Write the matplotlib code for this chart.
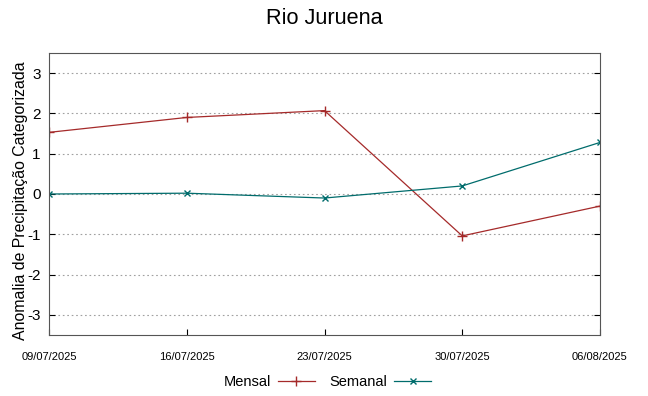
import matplotlib
matplotlib.use("Agg")
import matplotlib.pyplot as plt
import numpy as np
import pandas as pd

plt.rcParams['font.family'] = ['Liberation Sans', 'DejaVu Sans']
plt.rcParams['axes.unicode_minus'] = False

# dados
datas = pd.to_datetime(["2025-07-09", "2025-07-16", "2025-07-23", "2025-07-30", "2025-08-06"])
mensal = [1.53, 1.90, 2.07, -1.04, -0.30]
semanal = [0.0, 0.02, -0.10, 0.20, 1.28]
rotulos = ["09/07/2025", "16/07/2025", "23/07/2025", "30/07/2025", "06/08/2025"]

fig = plt.figure(figsize=(6.48, 3.96), dpi=100)
ax = fig.add_axes([49/648, 1 - 335/396, (600-49)/648, (335-53)/396])

ax.plot(datas, mensal, color="#a52a2a", lw=0.9, marker="+", ms=7, mew=1.0, label="Mensal")
ax.plot(datas, semanal, color="#006c6c", lw=0.9, marker="x", ms=5, mew=1.0, label="Semanal")

ax.set_xlim(datas[0], datas[-1])
ax.set_ylim(-3.5, 3.5)
ax.set_xticks(datas)
ax.set_xticklabels(rotulos, fontsize=8)
ax.set_yticks([-3, -2, -1, 0, 1, 2, 3])
ax.tick_params(axis="y", labelsize=11, direction="in", right=True, length=4, pad=6)
ax.tick_params(axis="x", direction="in", top=False, length=4, pad=12)
ax.grid(True, axis="y", linestyle=(0, (1.5, 2.5)), color="#a0a0a0", lw=0.8)
for s in ax.spines.values():
    s.set_color("#555555")
ax.set_ylabel("Anomalia de Precipitação Categorizada", fontsize=11.4)
ax.yaxis.set_label_coords(-0.038, 0.475)

fig.suptitle("Rio Juruena", fontsize=15.6, y=0.98)
fig.legend(loc="lower center", ncol=2, frameon=False, markerfirst=False,
           fontsize=10.5, bbox_to_anchor=(0.505, -0.015), handlelength=2.5,
           handletextpad=0.5, columnspacing=1.0)

fig.savefig("out.png", dpi=100)
